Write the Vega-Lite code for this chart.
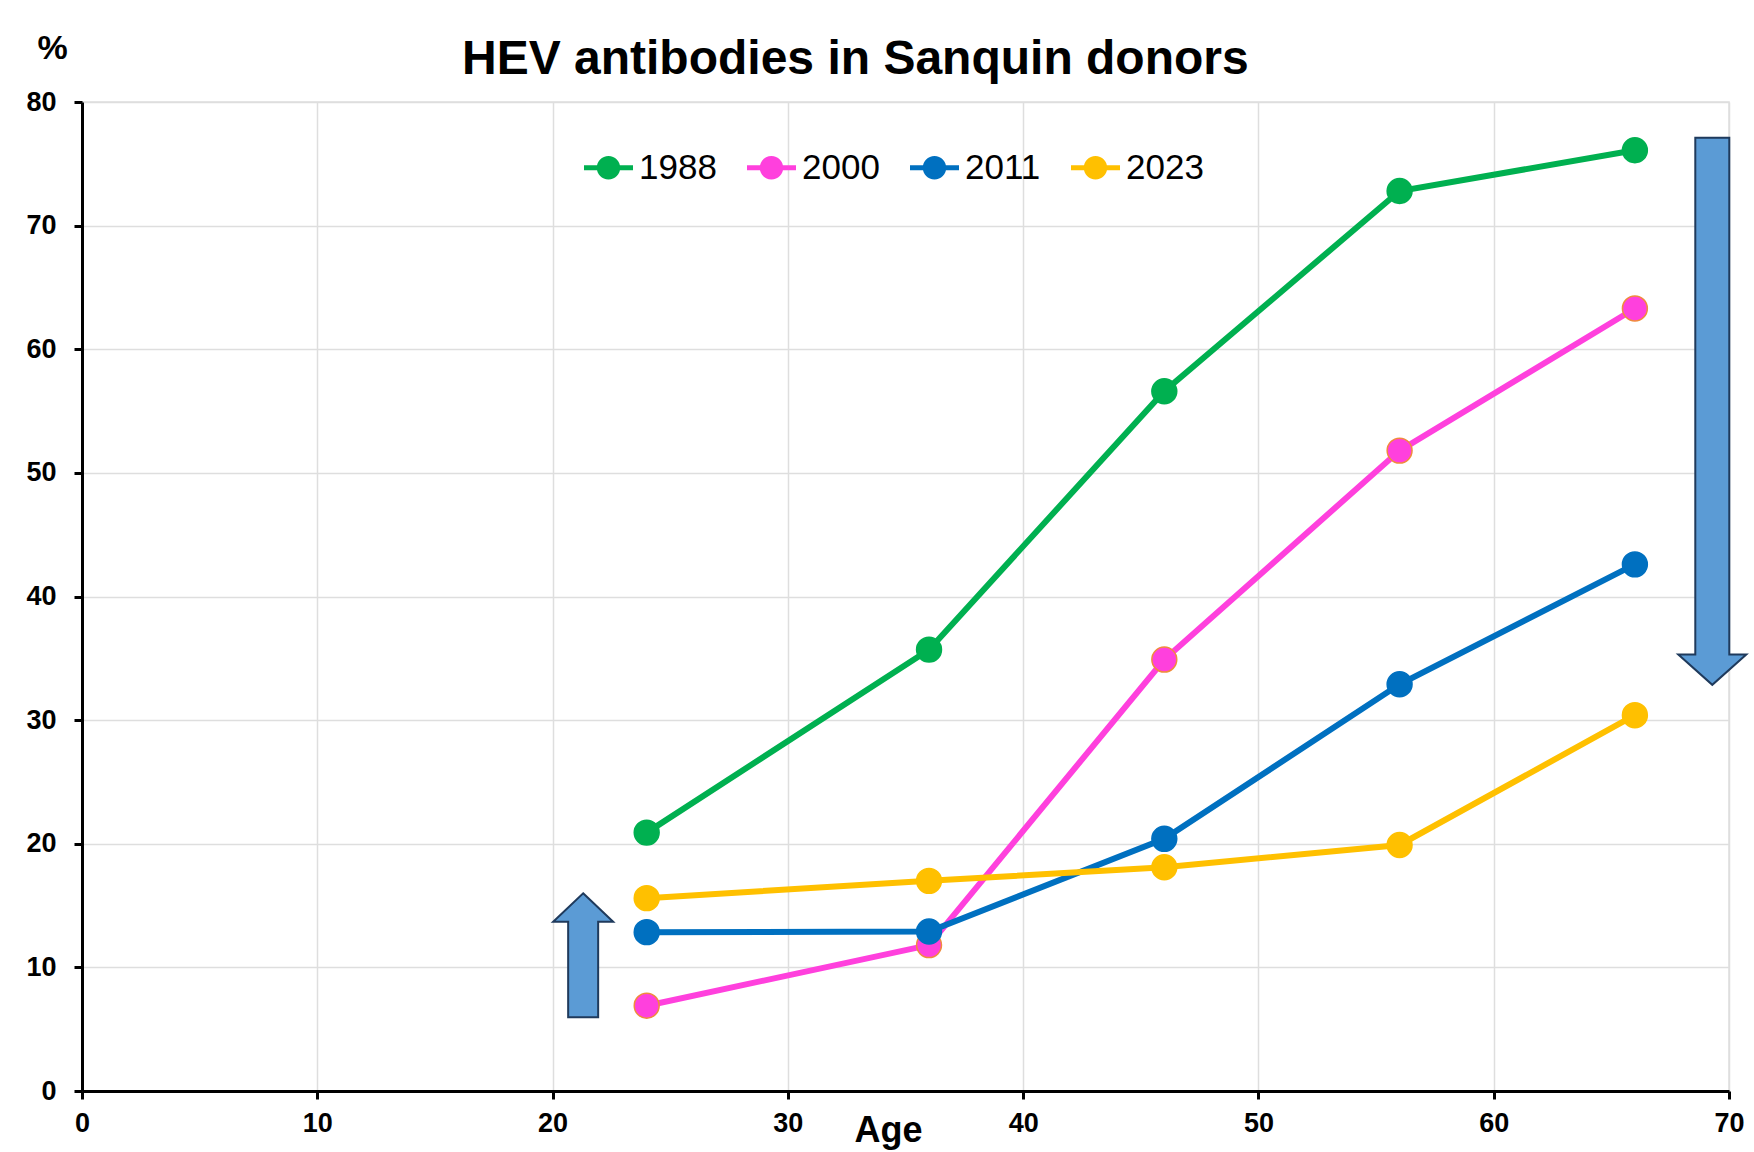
{
  "$schema": "https://vega.github.io/schema/vega-lite/v6.json",
  "autosize": {"type": "none"},
  "width": 1647,
  "height": 989,
  "padding": {"left": 82, "top": 102, "right": 25, "bottom": 61},
  "background": "white",
  "title": {
    "text": "HEV antibodies in Sanquin donors",
    "anchor": "start",
    "frame": "group",
    "dx": 380,
    "dy": 53,
    "offset": 0,
    "font": "Liberation Sans",
    "fontSize": 48,
    "fontWeight": "bold",
    "color": "black"
  },
  "datasets": {
    "series": [
      {"year": "1988", "age": 24, "pct": 20.9},
      {"year": "1988", "age": 36, "pct": 35.7},
      {"year": "1988", "age": 46, "pct": 56.6},
      {"year": "1988", "age": 56, "pct": 72.8},
      {"year": "1988", "age": 66, "pct": 76.1},
      {"year": "2000", "age": 24, "pct": 6.9},
      {"year": "2000", "age": 36, "pct": 11.8},
      {"year": "2000", "age": 46, "pct": 34.9},
      {"year": "2000", "age": 56, "pct": 51.8},
      {"year": "2000", "age": 66, "pct": 63.3},
      {"year": "2011", "age": 24, "pct": 12.85},
      {"year": "2011", "age": 36, "pct": 12.9},
      {"year": "2011", "age": 46, "pct": 20.4},
      {"year": "2011", "age": 56, "pct": 32.9},
      {"year": "2011", "age": 66, "pct": 42.6},
      {"year": "2023", "age": 24, "pct": 15.6},
      {"year": "2023", "age": 36, "pct": 17.0},
      {"year": "2023", "age": 46, "pct": 18.1},
      {"year": "2023", "age": 56, "pct": 19.9},
      {"year": "2023", "age": 66, "pct": 30.4}
    ],
    "arrows": [
      {"dir": "up", "age": 21.3, "pct": 10.98},
      {"dir": "down", "age": 69.29, "pct": 54.98}
    ]
  },
  "encoding": {
    "x": {
      "field": "age", "type": "quantitative",
      "scale": {"domain": [0, 70], "nice": false, "zero": true},
      "axis": {
        "values": [0, 10, 20, 30, 40, 50, 60, 70],
        "title": "Age",
        "titleX": 806, "titleY": 50,
        "titleAlign": "center", "titleBaseline": "alphabetic",
        "titleFont": "Liberation Sans", "titleFontSize": 36, "titleFontWeight": "bold", "titleColor": "black",
        "labelFont": "Liberation Sans", "labelFontSize": 27, "labelFontWeight": "bold", "labelColor": "black",
        "labelPadding": 11, "labelFlush": false,
        "domainColor": "black", "domainWidth": 3,
        "tickColor": "black", "tickWidth": 3, "tickSize": 8,
        "grid": true, "gridColor": "#DEDEDE", "gridWidth": 1.5
      }
    },
    "y": {
      "field": "pct", "type": "quantitative",
      "scale": {"domain": [0, 80], "nice": false},
      "axis": {
        "values": [0, 10, 20, 30, 40, 50, 60, 70, 80],
        "title": "%",
        "titleAngle": 0,
        "titleX": -30, "titleY": -44,
        "titleAlign": "center", "titleBaseline": "alphabetic",
        "titleFont": "Liberation Sans", "titleFontSize": 34, "titleFontWeight": "bold", "titleColor": "black",
        "labelFont": "Liberation Sans", "labelFontSize": 27, "labelFontWeight": "bold", "labelColor": "black",
        "labelPadding": 18, "labelFlush": false,
        "domainColor": "black", "domainWidth": 3,
        "tickColor": "black", "tickWidth": 3, "tickSize": 8,
        "grid": true, "gridColor": "#DEDEDE", "gridWidth": 1.5
      }
    }
  },
  "layer": [
    {
      "data": {"name": "series"},
      "mark": {"type": "line", "strokeWidth": 6},
      "encoding": {
        "color": {
          "field": "year", "type": "nominal",
          "scale": {"domain": ["1988", "2000", "2011", "2023"], "range": ["#00B050", "#FF40DD", "#0070C0", "#FFC000"]},
          "legend": {
            "title": null,
            "orient": "none",
            "direction": "horizontal",
            "legendX": 502,
            "legendY": 41,
            "symbolType": "M-1,-0.1L1,-0.1L1,0.1L-1,0.1Z M0.48,0A0.48,0.48 0 1,1 -0.48,0A0.48,0.48 0 1,1 0.48,0Z",
            "symbolSize": 2401,
            "symbolStrokeWidth": 0,
            "symbolOpacity": 1,
            "labelFont": "Liberation Sans",
            "labelFontSize": 35,
            "labelColor": "black",
            "labelOffset": 6,
            "columnPadding": 30,
            "encode": {
              "symbols": {
                "update": {
                  "fill": {"scale": "color", "field": "value"},
                  "fillOpacity": {"value": 1},
                  "strokeWidth": {"value": 0}
                }
              }
            }
          }
        }
      }
    },
    {
      "data": {"name": "series"},
      "mark": {"type": "point", "filled": true, "size": 620, "opacity": 1, "strokeWidth": 1.5},
      "encoding": {
        "color": {
          "field": "year", "type": "nominal",
          "scale": {"domain": ["1988", "2000", "2011", "2023"], "range": ["#00B050", "#FF40DD", "#0070C0", "#FFC000"]}
        },
        "stroke": {
          "field": "year", "type": "nominal",
          "scale": {"domain": ["1988", "2000", "2011", "2023"], "range": ["#00B050", "#F08C3C", "#0070C0", "#FFC000"]},
          "legend": null
        }
      }
    },
    {
      "data": {"name": "arrows"},
      "mark": {"type": "point", "filled": true, "size": 4, "fill": "#5B9BD5", "stroke": "#1F3A5C", "strokeWidth": 2, "opacity": 1, "fillOpacity": 1},
      "encoding": {
        "shape": {
          "field": "dir", "type": "nominal",
          "scale": {
            "domain": ["up", "down"],
            "range": [
              "M0,-62L30,-33.5L15,-33.5L15,62L-15,62L-15,-33.5L-30,-33.5Z",
              "M-17,-273.5L17,-273.5L17,243.3L34,243.3L0,273.5L-34,243.3L-17,243.3Z"
            ]
          },
          "legend": null
        }
      }
    }
  ],
  "config": {
    "view": {"stroke": "#DEDEDE", "strokeWidth": 1.5}
  }
}
